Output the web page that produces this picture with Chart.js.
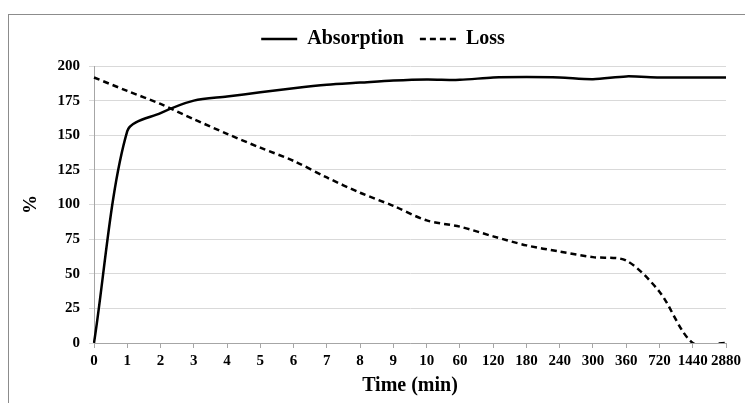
<!DOCTYPE html>
<html>
<head>
<meta charset="utf-8">
<script src="https://cdn.jsdelivr.net/npm/chart.js@4.4.0/dist/chart.umd.min.js"></script>
<style>
    body { margin: 0; background: #ffffff; overflow: hidden; }
    .chart-container { position: relative; width: 745px; height: 403px; }
    .cadre { position: absolute; left: 8px; top: 14px; width: 800px; height: 500px; border: 1px solid #8c8c8c; }
    canvas { position: absolute; left: 0; top: 0; }
</style>
</head>
<body>
<div class="chart-container">
    <div class="cadre"></div>
    <canvas id="myChart"></canvas>
</div>
<script>
// Données
const times = ['0', '1', '2', '3', '4', '5', '6', '7', '8', '9', '10', '60', '120', '180', '240', '300', '360', '720', '1440', '2880'];
const absorption = [0, 153, 166, 175, 178, 181, 184, 186.5, 188, 189.5, 190.3, 190, 191.7, 192, 191.7, 190.5, 192.5, 191.7, 191.7, 191.7];
const loss = [191.7, 182, 172.6, 161.6, 151, 141, 131.5, 119.5, 108.5, 99, 88.5, 84, 77, 70.5, 66, 62, 59.5, 37, 0, 0];
const yTicks = [0, 25, 50, 75, 100, 125, 150, 175, 200];

const police = 'Liberation Serif';

// Espace sous la légende et léger décalage vers la droite
const legendSpacing = {
    id: 'legendSpacing',
    beforeInit(chart) {
        const fitOriginal = chart.legend.fit;
        chart.legend.fit = function () {
            fitOriginal.bind(chart.legend)();
            this.height += 7;
        };
        const drawOriginal = chart.legend.draw;
        chart.legend.draw = function () {
            const ctx = chart.ctx;
            ctx.save();
            ctx.translate(14, 0);
            drawOriginal.apply(chart.legend, arguments);
            ctx.restore();
        };
    }
};

function createChart() {
    const config = {
        type: 'line',
        data: {
            labels: times,
            datasets: [{
                label: 'Absorption',
                data: absorption,
                borderColor: '#000000',
                backgroundColor: '#000000',
                borderWidth: 2.5,
                pointRadius: 0,
                tension: 0.3,
                fill: false
            },
            {
                label: 'Loss',
                data: loss,
                borderColor: '#000000',
                backgroundColor: 'transparent',
                borderWidth: 2.5,
                borderDash: [6, 4],
                pointRadius: 0,
                tension: 0.3,
                fill: false
            }]
        },
        options: {
            responsive: true,
            maintainAspectRatio: false,
            animation: false,
            elements: {
                line: { capBezierPoints: false }
            },
            layout: {
                padding: { left: 12, right: 19, top: 13, bottom: 2 }
            },
            scales: {
                x: {
                    type: 'category',
                    offset: false,
                    title: {
                        display: true,
                        text: 'Time (min)',
                        color: '#000000',
                        font: { family: police, size: 20, weight: 'bold' },
                        padding: { top: 0, bottom: 3 }
                    },
                    ticks: {
                        color: '#000000',
                        autoSkip: false,
                        maxRotation: 0,
                        padding: 4,
                        font: { family: police, size: 15, weight: 'bold' }
                    },
                    grid: {
                        offset: false,
                        drawOnChartArea: false,
                        drawTicks: true,
                        tickLength: 5,
                        color: '#a6a6a6'
                    },
                    border: { display: true, color: '#a6a6a6', width: 1 }
                },
                y: {
                    min: 0,
                    max: 200,
                    afterBuildTicks: (scale) => {
                        scale.ticks = yTicks.map(v => ({ value: v }));
                    },
                    afterFit: (scale) => {
                        scale.width = 82; // axe Y jusqu'à x = 94
                    },
                    title: {
                        display: true,
                        text: '%',
                        color: '#000000',
                        font: { family: police, size: 19, weight: 'bold' },
                        padding: { top: 8, bottom: 0 }
                    },
                    ticks: {
                        color: '#000000',
                        padding: 9,
                        font: { family: police, size: 15, weight: 'bold' }
                    },
                    grid: {
                        color: '#d9d9d9',
                        drawTicks: true,
                        tickLength: 5
                    },
                    border: { display: true, color: '#a6a6a6', width: 1 }
                }
            },
            plugins: {
                legend: {
                    display: true,
                    position: 'top',
                    labels: {
                        color: '#000000',
                        usePointStyle: true,
                        pointStyle: 'line',
                        pointStyleWidth: 36,
                        boxHeight: 10,
                        padding: 16,
                        font: { family: police, size: 20, weight: 'bold' },
                        // reprendre le pointillé de chaque série
                        generateLabels: (chart) => {
                            const items = Chart.defaults.plugins.legend.labels.generateLabels(chart);
                            items.forEach(item => {
                                const ds = chart.data.datasets[item.datasetIndex];
                                item.lineDash = ds.borderDash || [];
                                item.lineWidth = 2.5;
                                item.strokeStyle = '#000000';
                            });
                            return items;
                        }
                    }
                },
                tooltip: { enabled: false }
            }
        },
        plugins: [legendSpacing]
    };

    const ctx = document.getElementById('myChart').getContext('2d');
    new Chart(ctx, config);
}

createChart();
</script>
</body>
</html>
